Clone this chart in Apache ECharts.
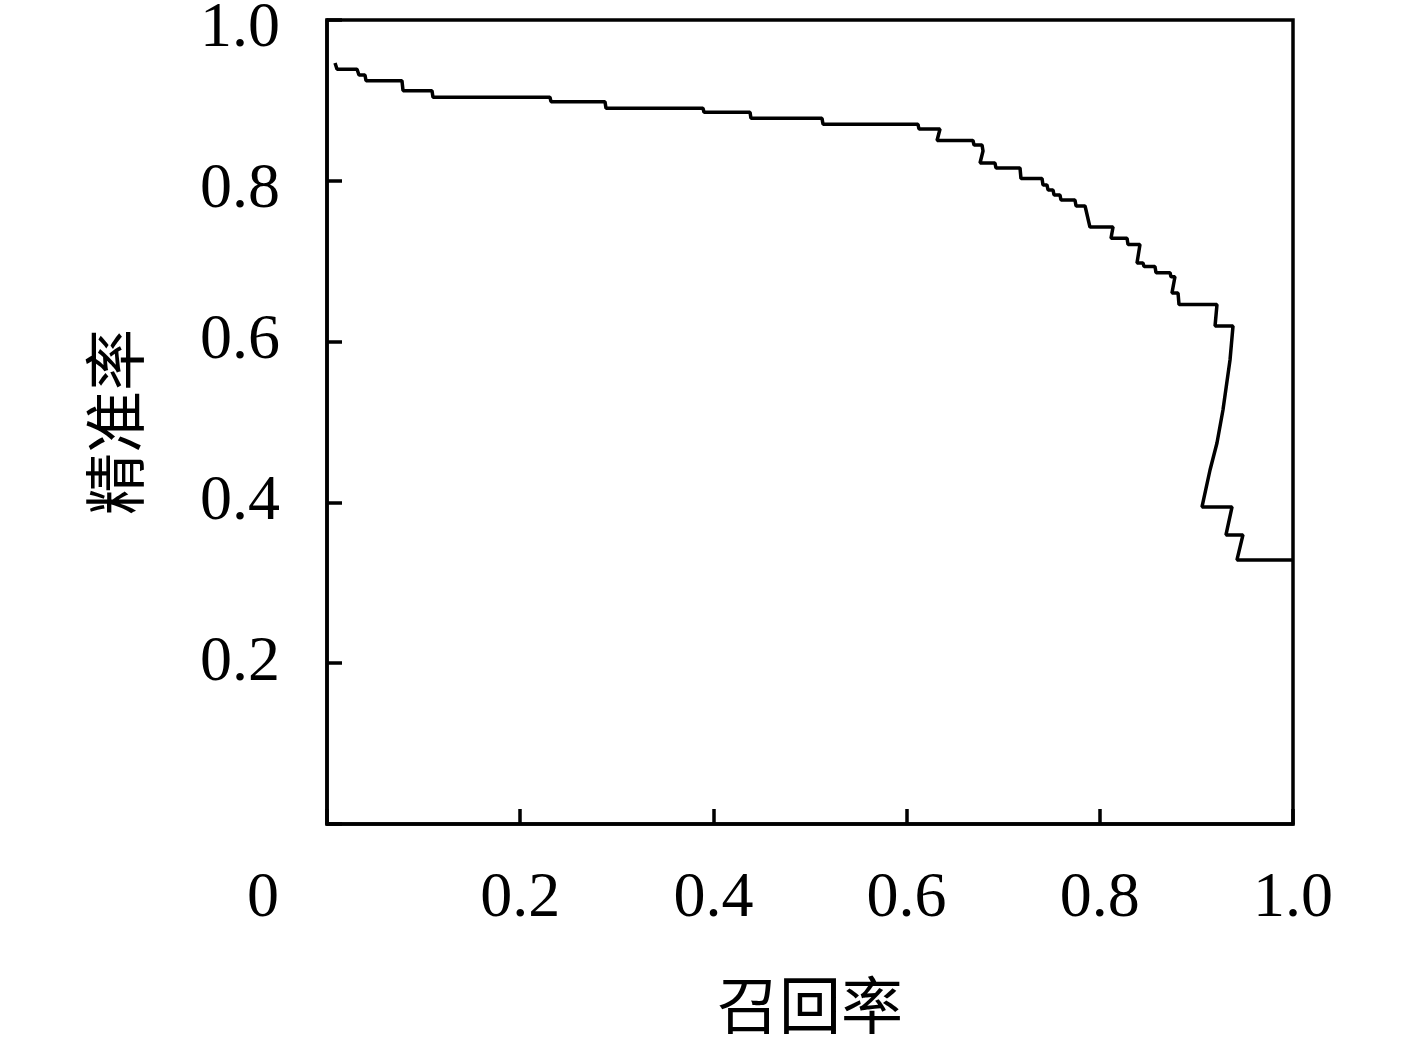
<!DOCTYPE html>
<html>
<head>
<meta charset="utf-8">
<script src="https://cdn.jsdelivr.net/npm/echarts@6/dist/echarts.min.js"></script>
<style>html,body{margin:0;padding:0;background:#fff;}#c{width:1417px;height:1042px;}</style>
</head>
<body>
<div id="c"></div>
<script>
// Precision-recall curve
const recall = [0.0083,0.0104,0.0311,0.0331,0.0393,0.0404,0.0776,0.0787,0.1087,0.1097,
  0.2308,0.2319,0.2878,0.2888,0.3892,0.3903,0.4379,0.4389,0.5124,0.5135,
  0.6118,0.6128,0.6346,0.6315,0.6687,0.6698,0.6781,0.6791,0.6760,0.6915,
  0.6925,0.7174,0.7184,0.7402,0.7412,0.7453,0.7464,0.7516,0.7526,0.7588,
  0.7598,0.7743,0.7754,0.7847,0.7857,0.7898,0.8137,0.8116,0.8282,0.8292,
  0.8416,0.8385,0.8447,0.8458,0.8571,0.8582,0.8727,0.8737,0.8778,0.8747,
  0.8810,0.8820,0.9213,0.9193,0.9379,0.9348,0.9275,0.9213,0.9141,0.9058,
  0.9369,0.9306,0.9482,0.9420,1.0];
const precision = [0.9465,0.9387,0.9387,0.9316,0.9316,0.9245,0.9245,0.9121,0.9121,0.9039,
  0.9039,0.8984,0.8984,0.8902,0.8902,0.8852,0.8852,0.8777,0.8777,0.8703,
  0.8703,0.8644,0.8644,0.8501,0.8501,0.8445,0.8445,0.8371,0.8221,0.8221,
  0.8159,0.8159,0.8029,0.8029,0.7948,0.7948,0.7886,0.7886,0.7823,0.7823,
  0.7761,0.7761,0.7687,0.7687,0.7637,0.7425,0.7425,0.7285,0.7285,0.7208,
  0.7208,0.6978,0.6978,0.6934,0.6934,0.6857,0.6857,0.6807,0.6807,0.6604,
  0.6604,0.6461,0.6461,0.6194,0.6194,0.5771,0.5149,0.4739,0.4403,0.3943,
  0.3943,0.3595,0.3595,0.3284,0.3284];
const xTicks = [0, 0.2, 0.4, 0.6, 0.8, 1.0];
const yTicks = [0.2, 0.4, 0.6, 0.8, 1.0];
const xName = '召回率';
const yName = '精准率';

const chart = echarts.init(document.getElementById('c'), null, {renderer: 'canvas'});
const serif = '"Liberation Serif", "DejaVu Serif", serif';
const cjk = '"Noto Sans CJK SC", sans-serif';
const pts = recall.map((r, i) => [r, precision[i]]);
const lblStyle = {fontFamily: serif, fontSize: 64, color: '#000'};
chart.setOption({
  animation: false,
  backgroundColor: '#fff',
  grid: {left: 327, right: 124, top: 20, bottom: 218, containLabel: false, outerBoundsMode: 'none',
    show: true, borderColor: '#000', borderWidth: 3.5, backgroundColor: 'transparent'},
  xAxis: {
    type: 'value', min: 0, max: 1, interval: 0.2,
    name: xName, nameLocation: 'middle', nameGap: 150,
    nameTextStyle: {fontFamily: cjk, fontSize: 62, color: '#000'},
    axisLine: {show: true, lineStyle: {color: '#000', width: 3.5}},
    axisTick: {show: true, inside: true, length: 15, lineStyle: {color: '#000', width: 3.5}},
    splitLine: {show: false},
    axisLabel: {
      margin: 43, fontFamily: serif, fontSize: 64, color: '#000',
      formatter: v => (Math.abs(v) < 1e-9 ? '{o|0}' : (xTicks.some(t => Math.abs(t - v) < 1e-9) ? v.toFixed(1) : '')),
      rich: {o: Object.assign({padding: [0, 128, 0, 0]}, lblStyle)}
    }
  },
  yAxis: {
    type: 'value', min: 0, max: 1, interval: 0.2,
    name: yName, nameLocation: 'middle', nameGap: 181, nameRotate: 90,
    nameTextStyle: {fontFamily: cjk, fontSize: 62, color: '#000'},
    axisLine: {show: true, lineStyle: {color: '#000', width: 3.5}},
    axisTick: {show: true, inside: true, length: 15, lineStyle: {color: '#000', width: 3.5}},
    splitLine: {show: false},
    axisLabel: {
      margin: 47, fontFamily: serif, fontSize: 64, color: '#000',
      formatter: v => {
        if (Math.abs(v - 1) < 1e-9) return '{d|1.0}';
        if (Math.abs(v - 0.8) < 1e-9) return '{d|0.8}';
        return yTicks.some(t => Math.abs(t - v) < 1e-9) ? v.toFixed(1) : '';
      },
      rich: {d: Object.assign({padding: [19, 0, 0, 0]}, lblStyle)}
    }
  },
  series: [{
    type: 'line', data: pts, showSymbol: false, symbol: 'none',
    lineStyle: {color: '#000', width: 3.5}, z: 3
  }]
});
</script>
</body>
</html>
